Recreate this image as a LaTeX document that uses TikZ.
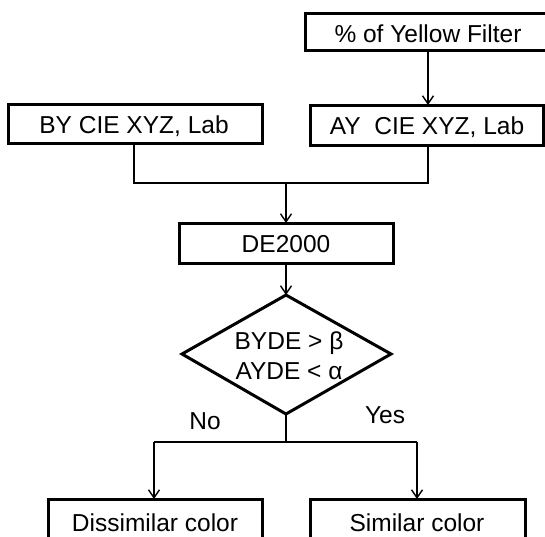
\documentclass[tikz,border=0pt]{standalone}
\usepackage{fontspec}
\setmainfont{Liberation Sans}
\usetikzlibrary{shapes.geometric,arrows.meta}
\begin{document}
\begin{tikzpicture}[x=1pt,y=-1pt,
  box/.style={draw,line width=3pt,inner sep=0pt},
  conn/.style={line width=1.5pt},
  arr/.style={conn,-{Straight Barb[length=8pt,width=11pt,line width=1.4pt]}},
  lbl/.style={font=\fontsize{24.5}{30}\selectfont,inner sep=0pt}]
\useasboundingbox (0,0) rectangle (545,536);
\clip (0,0) rectangle (545,536);
% boxes
\draw[box] (305,13) rectangle (560,50);
\node[lbl] (yf) at (428,34) {\% of Yellow Filter};
\coordinate (yfb) at (428,50);
\draw[box] (8,104) rectangle (262,143);
\node[lbl] (by) at (134,126) {BY CIE XYZ, Lab};
\coordinate (byb) at (134,143);
\draw[box] (310,105) rectangle (543,145);
\node[lbl] (ay) at (427,127) {AY\ \ CIE XYZ, Lab};
\coordinate (ayt) at (428,105);
\coordinate (ayb) at (428,145);
\draw[box] (179,223) rectangle (393,263);
\node[lbl] (de) at (286,244) {DE2000};
\coordinate (det) at (286,223);
\coordinate (deb) at (286,263);
\draw[box] (286,295) -- (391,354) -- (286,414) -- (182,354) -- cycle;
\node[lbl,align=center] (dm) at (289,356) {BYDE \textgreater\ β\\AYDE \textless\ α};
\coordinate (dmt) at (286,295);
\coordinate (dmb) at (286,414);
\draw[box] (48,499) rectangle (262,560);
\node[lbl] (dis) at (155,523) {Dissimilar color};
\coordinate (dist) at (154,499);
\draw[box] (310,499) rectangle (525,560);
\node[lbl] (sim) at (417,523) {Similar color};
\coordinate (simt) at (417,499);
% connectors
\coordinate (j1) at (134,183);
\coordinate (j2) at (428,183);
\coordinate (j3) at (286,183);
\draw[arr] (yfb) -- (ayt);
\draw[conn] (byb) -- (j1) -- (j2) -- (ayb);
\draw[arr] (j3) -- (det);
\draw[arr] (deb) -- (dmt);
\coordinate (j4) at (286,442);
\coordinate (jl) at (154,442);
\coordinate (jr) at (417,442);
\draw[conn] (dmb) -- (j4);
\draw[conn] (jl) -- (jr);
\draw[arr] (jl) -- (dist);
\draw[arr] (jr) -- (simt);
\node[lbl] (no) at (205,421) {No};
\node[lbl] (yes) at (385,415) {Yes};
\end{tikzpicture}
\end{document}
